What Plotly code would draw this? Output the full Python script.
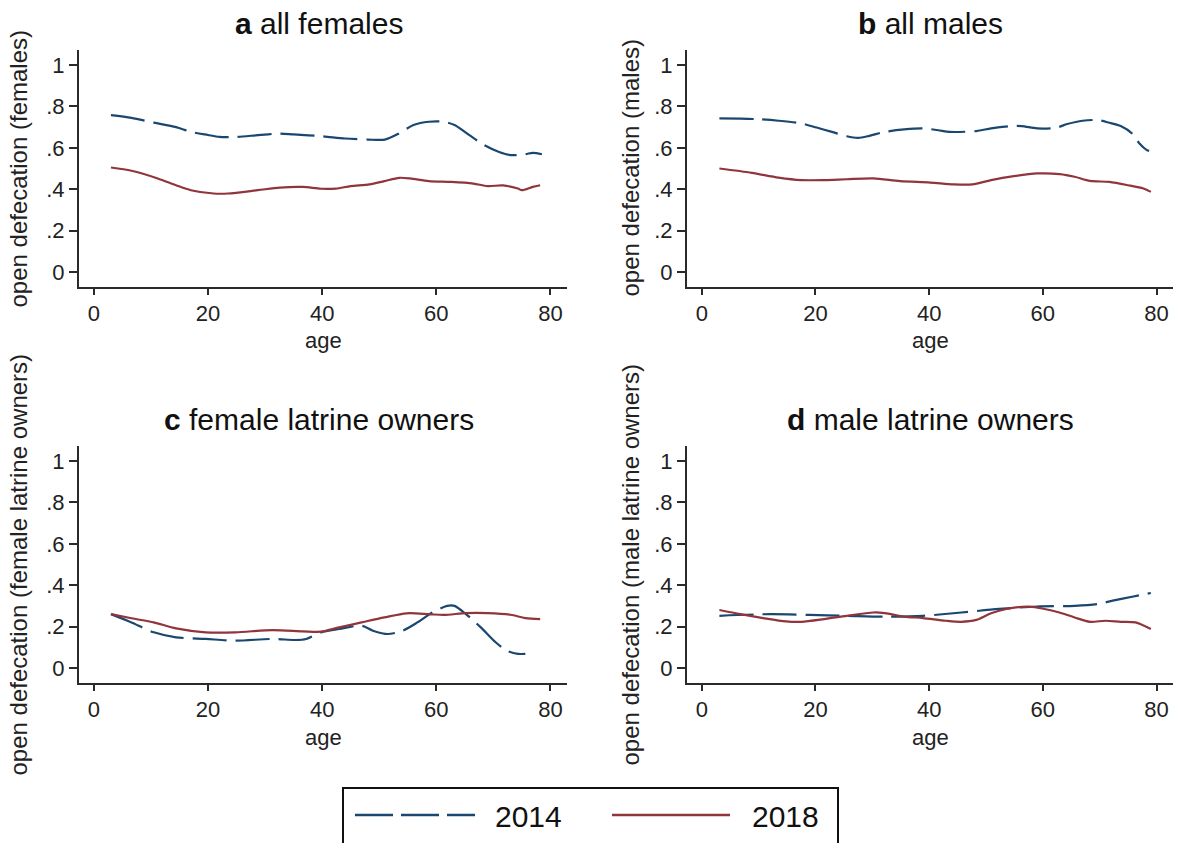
import plotly.graph_objects as go

W, H = 1177, 843

# ---------------- data ----------------
age_a14 = [3, 6.6, 10.5, 14.4, 17, 20, 22, 25, 28.7, 32.6, 35, 40, 44, 48, 51, 53.5, 56, 58.7, 61.3, 63.2, 65.8, 68.4, 71, 73, 75.6, 76.9, 78.5]
val_a14 = [0.758, 0.745, 0.722, 0.700, 0.677, 0.662, 0.653, 0.653, 0.661, 0.669, 0.665, 0.656, 0.645, 0.640, 0.640, 0.670, 0.710, 0.726, 0.726, 0.710, 0.661, 0.613, 0.580, 0.565, 0.569, 0.576, 0.569]
age_a18 = [3, 6.6, 11.2, 14.4, 17, 21, 23.5, 28.7, 32.6, 36.6, 39.8, 42.4, 45, 48.3, 50.9, 53.5, 55.4, 58.7, 62.6, 66.5, 69, 71.7, 74.3, 75, 76.9, 78.2]
val_a18 = [0.505, 0.489, 0.452, 0.419, 0.395, 0.379, 0.379, 0.395, 0.408, 0.411, 0.402, 0.403, 0.415, 0.423, 0.439, 0.455, 0.452, 0.439, 0.435, 0.427, 0.415, 0.418, 0.403, 0.395, 0.411, 0.419]

age_b14 = [3.1, 9.5, 13.5, 17.5, 20.2, 22.9, 25.5, 27.5, 29.5, 32.2, 35.6, 38.9, 41.6, 43.6, 48.3, 50.9, 54.3, 56.3, 59, 62.3, 64.3, 67, 69.7, 71.7, 73.7, 75.7, 77, 78.3, 78.7]
val_b14 = [0.742, 0.739, 0.731, 0.718, 0.698, 0.677, 0.656, 0.648, 0.658, 0.677, 0.689, 0.694, 0.685, 0.677, 0.681, 0.694, 0.705, 0.705, 0.694, 0.697, 0.715, 0.731, 0.734, 0.721, 0.705, 0.669, 0.621, 0.589, 0.585]
age_b18 = [3.1, 8.8, 13.5, 17.5, 21.5, 25.5, 30.2, 34.9, 40.2, 44.3, 47.6, 50.9, 54.9, 59, 63, 65.6, 68.3, 71.7, 75, 77.7, 79]
val_b18 = [0.500, 0.479, 0.456, 0.444, 0.444, 0.448, 0.452, 0.439, 0.432, 0.423, 0.423, 0.444, 0.463, 0.476, 0.473, 0.460, 0.440, 0.435, 0.419, 0.403, 0.387]

age_c14 = [3, 6.6, 10.5, 14.4, 19.6, 24.8, 31.3, 35.3, 37.2, 39.8, 43, 46.9, 48.9, 51.5, 54.1, 56.7, 59.3, 61.9, 63.2, 65.2, 67.8, 70.4, 72.3, 74.3, 75.6]
val_c14 = [0.260, 0.220, 0.172, 0.148, 0.140, 0.132, 0.140, 0.135, 0.140, 0.172, 0.188, 0.204, 0.180, 0.164, 0.180, 0.220, 0.268, 0.300, 0.300, 0.260, 0.196, 0.124, 0.084, 0.068, 0.068]
age_c18 = [3, 6.6, 10.5, 14.4, 19.6, 24.8, 31.3, 36.6, 39.8, 43, 46.9, 50.9, 54.8, 58.7, 61.3, 65.2, 69, 73, 75.6, 78.2]
val_c18 = [0.260, 0.240, 0.220, 0.191, 0.172, 0.172, 0.183, 0.177, 0.175, 0.196, 0.220, 0.244, 0.264, 0.260, 0.256, 0.265, 0.265, 0.257, 0.241, 0.236]

age_d14 = [3.1, 12.2, 18.9, 25.5, 32.2, 38.9, 45.7, 52.3, 59, 65.6, 69.7, 72.3, 75.7, 79]
val_d14 = [0.252, 0.260, 0.256, 0.252, 0.248, 0.252, 0.268, 0.285, 0.297, 0.300, 0.309, 0.325, 0.344, 0.362]
age_d18 = [3.1, 6.8, 10.8, 14.8, 17.5, 21.5, 25.5, 30.2, 32.2, 35.6, 38.9, 42.9, 45.6, 48.3, 50.9, 53.6, 57.6, 60.3, 62.9, 65.6, 68.3, 71, 73.7, 76.3, 79]
val_d18 = [0.280, 0.260, 0.241, 0.225, 0.223, 0.236, 0.252, 0.268, 0.265, 0.248, 0.241, 0.228, 0.223, 0.232, 0.264, 0.285, 0.296, 0.285, 0.268, 0.244, 0.223, 0.228, 0.223, 0.220, 0.188]

panel_titles = ["<b>a</b> all females", "<b>b</b> all males",
                "<b>c</b> female latrine owners", "<b>d</b> male latrine owners"]
y_titles = ["open defecation (females)", "open defecation (males)",
            "open defecation (female latrine owners)", "open defecation (male latrine owners)"]
x_title = "age"
series_names = ["2014", "2018"]
y_tickvals = [0, 0.2, 0.4, 0.6, 0.8, 1]
y_ticktext = ["0", ".2", ".4", ".6", ".8", "1"]
x_tickvals = [0, 20, 40, 60, 80]

panels = [
    (age_a14, val_a14, age_a18, val_a18),
    (age_b14, val_b14, age_b18, val_b18),
    (age_c14, val_c14, age_c18, val_c18),
    (age_d14, val_d14, age_d18, val_d18),
]

# ---------------- styling ----------------
C14 = "#1a476f"
C18 = "#90353b"
AX = "#2a2a2a"
FONT = "Liberation Sans, Arial, sans-serif"

def px_x(p):
    return p / W

def px_y(p):
    return 1 - p / H

# plot-area boxes in pixels (left, right, top, bottom)
boxes = [
    (79, 567, 50, 287),
    (687, 1173, 50, 287),
    (79, 567, 446, 683),
    (687, 1173, 446, 683),
]

fig = go.Figure()
layout = dict(
    width=W, height=H,
    margin=dict(l=0, r=0, t=0, b=0),
    paper_bgcolor="white", plot_bgcolor="white",
    showlegend=False,
    font=dict(family=FONT, color="#222222"),
)

annotations = []
shapes = []
for i, (box, pdata) in enumerate(zip(boxes, panels)):
    l, r, t, b = box
    xa = "xaxis" if i == 0 else f"xaxis{i+1}"
    ya = "yaxis" if i == 0 else f"yaxis{i+1}"
    xr = "x" if i == 0 else f"x{i+1}"
    yr = "y" if i == 0 else f"y{i+1}"
    layout[xa] = dict(
        domain=[px_x(l), px_x(r)], anchor=yr, range=[-2.6, 82.9],
        showline=True, linecolor=AX, linewidth=2, mirror=False,
        ticks="outside", ticklen=6, tickwidth=1.5, tickcolor=AX,
        tickvals=x_tickvals, showgrid=False, zeroline=False,
        tickfont=dict(size=22, family=FONT, color="#222222"),
    )
    layout[ya] = dict(
        domain=[px_y(b), px_y(t)], anchor=xr, range=[-0.073, 1.073],
        showline=True, linecolor=AX, linewidth=2, mirror=False,
        ticks="outside", ticklen=8, tickwidth=1.5, tickcolor=AX,
        tickvals=y_tickvals, ticktext=y_ticktext, showgrid=False, zeroline=False,
        tickfont=dict(size=22, family=FONT, color="#222222"),
    )
    a14, v14, a18, v18 = pdata
    fig.add_trace(go.Scatter(x=a14, y=v14, mode="lines", name=series_names[0],
                             line=dict(color=C14, width=2.2, dash="34px,9px", shape="spline", smoothing=0.8),
                             xaxis=xr, yaxis=yr))
    fig.add_trace(go.Scatter(x=a18, y=v18, mode="lines", name=series_names[1],
                             line=dict(color=C18, width=2.2, shape="spline", smoothing=0.8),
                             xaxis=xr, yaxis=yr))
    cx = (l + r) / 2
    tcx = cx - 4 if l < 300 else cx
    # panel title
    annotations.append(dict(text=panel_titles[i], x=px_x(tcx), y=px_y(t - 27), xref="paper", yref="paper",
                            xanchor="center", yanchor="middle", showarrow=False,
                            font=dict(size=30, family=FONT, color="#111111")))
    # x title
    annotations.append(dict(text=x_title, x=px_x(cx), y=px_y(b + 54), xref="paper", yref="paper",
                            xanchor="center", yanchor="middle", showarrow=False,
                            font=dict(size=22, family=FONT, color="#222222")))
    # y title
    ytx = 18 if l < 300 else 630
    annotations.append(dict(text=y_titles[i], x=px_x(ytx), y=px_y((t + b) / 2), xref="paper", yref="paper",
                            xanchor="center", yanchor="middle", showarrow=False, textangle=-90,
                            font=dict(size=24, family=FONT, color="#222222")))

# ---------------- legend (drawn) ----------------
shapes.append(dict(type="rect", xref="paper", yref="paper",
                   x0=px_x(343), x1=px_x(838), y0=px_y(860), y1=px_y(788),
                   line=dict(color="#111111", width=2), fillcolor="rgba(0,0,0,0)"))
shapes.append(dict(type="line", xref="paper", yref="paper",
                   x0=px_x(355), x1=px_x(475), y0=px_y(815), y1=px_y(815),
                   line=dict(color=C14, width=2.5, dash="38px,8px")))
shapes.append(dict(type="line", xref="paper", yref="paper",
                   x0=px_x(612), x1=px_x(730), y0=px_y(815), y1=px_y(815),
                   line=dict(color=C18, width=2.5)))
annotations.append(dict(text=series_names[0], x=px_x(493), y=px_y(816), xref="paper", yref="paper",
                        xanchor="left", yanchor="middle", showarrow=False,
                        font=dict(size=30, family=FONT, color="#111111")))
annotations.append(dict(text=series_names[1], x=px_x(750), y=px_y(816), xref="paper", yref="paper",
                        xanchor="left", yanchor="middle", showarrow=False,
                        font=dict(size=30, family=FONT, color="#111111")))

layout["annotations"] = annotations
layout["shapes"] = shapes
fig.update_layout(**layout)
fig.write_html("out.html")
